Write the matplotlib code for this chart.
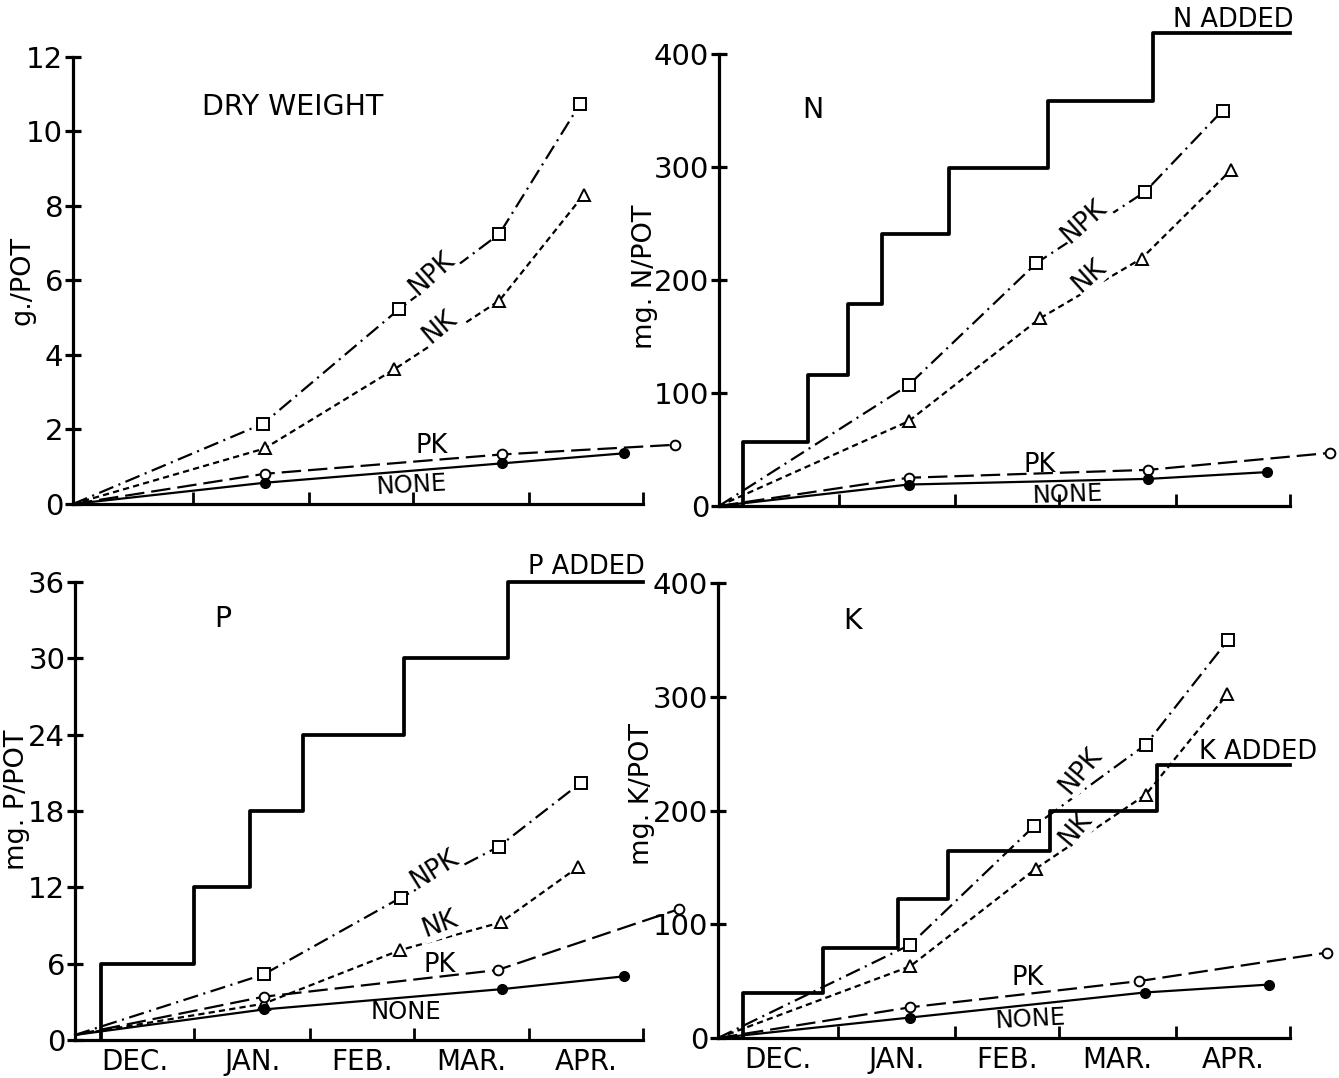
"""Four-panel figure: dry weight and N, P, K uptake per pot over the season,
with the cumulative amount of each nutrient added drawn as a step line."""

import matplotlib
matplotlib.use("Agg")
import matplotlib.pyplot as plt

plt.rcParams["font.family"] = ["DejaVu Sans"]
plt.rcParams["lines.scale_dashes"] = False

W, H = 1339, 1078

# month axis: 0 = start of the experiment, ticks at month boundaries
month_ticks = [1.05, 2.07, 2.98, 4.0, 5.0]
month_labels = ["DEC.", "JAN.", "FEB.", "MAR.", "APR."]

# ---- dry weight (g./pot) ----
dw_npk_x = [0, 1.67, 2.86, 3.74, 4.45]
dw_npk_y = [0, 2.16, 5.23, 7.25, 10.75]
dw_nk_x = [0, 1.68, 2.82, 3.74, 4.48]
dw_nk_y = [0, 1.49, 3.62, 5.46, 8.3]
dw_pk_x = [0, 1.68, 3.76, 5.28]
dw_pk_y = [0, 0.81, 1.33, 1.59]
dw_none_x = [0, 1.68, 3.76, 4.83]
dw_none_y = [0, 0.57, 1.09, 1.36]

# ---- N (mg./pot) ----
n_npk_x = [0, 1.66, 2.78, 3.73, 4.41]
n_npk_y = [0, 107, 215, 278, 350]
n_nk_x = [0, 1.66, 2.81, 3.70, 4.48]
n_nk_y = [0, 75, 166, 219, 297]
n_pk_x = [0, 1.66, 3.76, 5.35]
n_pk_y = [0, 25, 32, 47]
n_none_x = [0, 1.66, 3.76, 4.80]
n_none_y = [0, 19, 24, 30]
n_added_x = [0.21, 0.21, 0.78, 1.13, 1.43, 2.01, 2.88, 3.80, 5.0]
n_added_y = [0, 57, 116, 179, 241, 299, 358, 419, 419]

# ---- P (mg./pot) ----
p_npk_x = [0, 1.66, 2.87, 3.73, 4.45]
p_npk_y = [0.4, 5.15, 11.2, 15.2, 20.2]
p_nk_x = [0, 1.66, 2.86, 3.75, 4.43]
p_nk_y = [0.4, 2.85, 7.06, 9.25, 13.6]
p_pk_x = [0, 1.66, 3.72, 5.32]
p_pk_y = [0.4, 3.4, 5.5, 10.3]
p_none_x = [0, 1.66, 3.76, 4.83]
p_none_y = [0.4, 2.4, 4.0, 5.0]
p_added_x = [0.23, 0.23, 1.05, 1.54, 2.01, 2.90, 3.81, 5.0]
p_added_y = [0, 6, 12, 18, 24, 30, 36, 36]

# ---- K (mg./pot) ----
k_npk_x = [0, 1.68, 2.76, 3.74, 4.46]
k_npk_y = [0, 82, 186, 258, 350]
k_nk_x = [0, 1.68, 2.78, 3.74, 4.45]
k_nk_y = [0, 63, 149, 214, 302]
k_pk_x = [0, 1.68, 3.68, 5.32]
k_pk_y = [0, 27, 50, 75]
k_none_x = [0, 1.68, 3.73, 4.82]
k_none_y = [0, 18, 40, 47]
k_added_x = [0.22, 0.22, 0.92, 1.57, 2.01, 2.90, 3.84, 5.0]
k_added_y = [0, 40, 79, 122, 164, 200, 240, 240]


def axes_at(fig, left, right, bottom, top):
    return fig.add_axes([left / W, 1 - bottom / H, (right - left) / W, (bottom - top) / H])


def style_axes(ax, ymax, yticks, ylabel, label_xy, show_months):
    ax.set_xlim(0, 5)
    ax.set_ylim(0, ymax)
    for side in ("top", "right"):
        ax.spines[side].set_visible(False)
    for side in ("left", "bottom"):
        ax.spines[side].set_linewidth(2.3)
    ax.set_yticks(yticks)
    ax.set_yticklabels([str(t) for t in yticks], fontsize=21)
    ax.tick_params(axis="y", direction="inout", length=12, width=2.3, pad=1)
    ax.set_xticks(month_ticks)
    ax.set_xticklabels([])
    ax.tick_params(axis="x", direction="in", length=9, width=2.0)
    ax.set_ylabel(ylabel, fontsize=19.5, va="center")
    ax.yaxis.set_label_coords(*label_xy)
    if show_months:
        centers = [(a + b) / 2 for a, b in zip([0] + month_ticks[:-1], month_ticks)]
        for c, lab in zip(centers, month_labels):
            ax.text(c, -0.018, lab, transform=ax.get_xaxis_transform(),
                    ha="center", va="top", fontsize=20)


def draw_series(ax, npk, nk, pk, none):
    kw = dict(color="black", lw=1.6, clip_on=False, zorder=2)
    ax.plot(*npk, dashes=(11, 4, 1.5, 4), marker="s", ms=8, mfc="white",
            mec="black", mew=1.4, **kw)
    ax.plot(*nk, dashes=(4.5, 3), marker="^", ms=8, mfc="white",
            mec="black", mew=1.4, **kw)
    ax.plot(*pk, dashes=(14, 5), marker="o", ms=7, mfc="white",
            mec="black", mew=1.4, **kw)
    ax.plot(*none, linestyle="-", marker="o", ms=7, mfc="black",
            mec="black", **kw)
    # markers are not drawn at the origin
    for line in ax.lines[-4:]:
        line.set_markevery(list(range(1, len(line.get_xdata()))))


def added(ax, xs, ys):
    ax.step(xs, ys, where="post", color="black", lw=2.7, clip_on=False, zorder=4)


def label(ax, x, y, s, rot=0, size=18.5, va="center", gap=False, **kw):
    if gap:
        kw["bbox"] = dict(boxstyle="square,pad=0.05", fc="white", ec="none")
    ax.text(x, y, s, rotation=rot, rotation_mode="anchor", ha="center",
            va=va, fontsize=size, clip_on=False, zorder=3, **kw)


fig = plt.figure(figsize=(W / 100, H / 100), dpi=100)
fig.patch.set_facecolor("white")

# dry weight
ax = axes_at(fig, 73, 643, 504, 57)
style_axes(ax, 12, [0, 2, 4, 6, 8, 10, 12], "g./POT", (-0.089, 0.50), False)
draw_series(ax, (dw_npk_x, dw_npk_y), (dw_nk_x, dw_nk_y),
            (dw_pk_x, dw_pk_y), (dw_none_x, dw_none_y))
label(ax, 1.93, 10.66, "DRY WEIGHT", size=20.5)
label(ax, 3.15, 6.2, "NPK", rot=42, gap=True)
label(ax, 3.22, 4.75, "NK", rot=40, gap=True)
label(ax, 3.15, 1.55, "PK")
label(ax, 2.97, 0.5, "NONE", rot=3, size=17.5)

# N
ax = axes_at(fig, 719, 1290, 506, 54)
style_axes(ax, 400, [0, 100, 200, 300, 400], "mg. N/POT", (-0.13, 0.507), False)
added(ax, n_added_x, n_added_y)
draw_series(ax, (n_npk_x, n_npk_y), (n_nk_x, n_nk_y),
            (n_pk_x, n_pk_y), (n_none_x, n_none_y))
label(ax, 0.82, 350, "N", size=20.5)
label(ax, 4.5, 424, "N ADDED", size=18.5, va="baseline")
label(ax, 3.2, 252, "NPK", rot=42, gap=True)
label(ax, 3.24, 204, "NK", rot=42, gap=True)
label(ax, 2.81, 36, "PK")
label(ax, 3.05, 10, "NONE", rot=2, size=17.5)

# P
ax = axes_at(fig, 75, 643, 1040, 582)
style_axes(ax, 36, [0, 6, 12, 18, 24, 30, 36], "mg. P/POT", (-0.102, 0.524), True)
added(ax, p_added_x, p_added_y)
draw_series(ax, (p_npk_x, p_npk_y), (p_nk_x, p_nk_y),
            (p_pk_x, p_pk_y), (p_none_x, p_none_y))
label(ax, 1.30, 33.1, "P", size=20.5)
label(ax, 4.5, 36.6, "P ADDED", size=18.5, va="baseline")
label(ax, 3.17, 13.4, "NPK", rot=32, gap=True)
label(ax, 3.21, 9.1, "NK", rot=20, gap=True)
label(ax, 3.21, 5.9, "PK")
label(ax, 2.91, 2.2, "NONE", size=17.5)

# K
ax = axes_at(fig, 718, 1290, 1038, 583)
style_axes(ax, 400, [0, 100, 200, 300, 400], "mg. K/POT", (-0.132, 0.536), True)
added(ax, k_added_x, k_added_y)
draw_series(ax, (k_npk_x, k_npk_y), (k_nk_x, k_nk_y),
            (k_pk_x, k_pk_y), (k_none_x, k_none_y))
label(ax, 1.18, 367, "K", size=20.5)
label(ax, 4.72, 245, "K ADDED", size=18.5, va="baseline")
label(ax, 3.17, 235, "NPK", rot=50, gap=True)
label(ax, 3.13, 184, "NK", rot=50, gap=True)
label(ax, 2.71, 53, "PK")
label(ax, 2.73, 17, "NONE", rot=3, size=17.5)

fig.savefig("out.png", dpi=100)
